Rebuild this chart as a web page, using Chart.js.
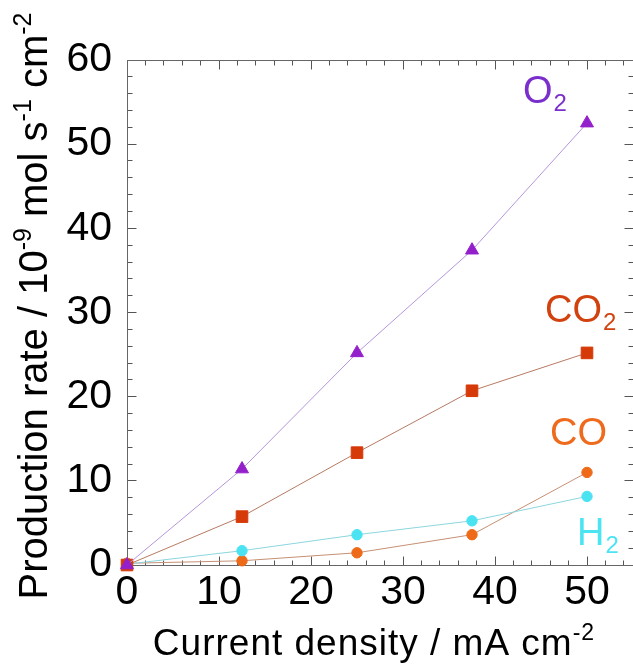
<!DOCTYPE html>
<html>
<head>
<meta charset="utf-8">
<script src="https://cdn.jsdelivr.net/npm/chart.js@4.4.1/dist/chart.umd.min.js"></script>
<style>
  html, body { margin: 0; padding: 0; background: #fff; overflow: hidden; }
</style>
</head>
<body>
<canvas id="chart" width="633" height="664"></canvas>
<script>
// values (x = current density, y = production rate)
const currentDensity = [0, 12.5, 25, 37.5, 50];
const o2 = [0, 11.4, 25.2, 37.4, 52.5];
const co2 = [0, 5.75, 13.35, 20.7, 25.2];
const co = [0.2, 0.5, 1.45, 3.6, 11.0];
const h2 = [0.1, 1.7, 3.6, 5.25, 8.15];
const xTickValues = [0, 10, 20, 30, 40, 50];
const yTickValues = [0, 10, 20, 30, 40, 50, 60];

const FONT = "'Liberation Sans', Arial, sans-serif";

function points(ys) {
    return currentDensity.map((x, i) => ({ x: x, y: ys[i] }));
}

// text with sub/superscript pieces
function richWidth(ctx, parts, size) {
    let w = 0;
    parts.forEach(p => {
        ctx.font = (p.sup || p.sub ? Math.round(size * 0.62) : size) + "px " + FONT;
        w += ctx.measureText(p.t).width;
    });
    return w;
}

function drawRich(ctx, parts, x, y, size) {
    parts.forEach(p => {
        const s = p.sup || p.sub ? Math.round(size * 0.62) : size;
        ctx.font = s + "px " + FONT;
        let dy = 0;
        if (p.sup) dy = -size * 0.4;
        if (p.sub) dy = size * 0.2;
        ctx.fillText(p.t, x, y + dy);
        x += ctx.measureText(p.t).width;
    });
}

const frameAndText = {
    id: "frameAndText",
    beforeDatasetsDraw(chart) {
        const { ctx, chartArea: a, scales } = chart;
        const xs = scales.x, ys = scales.y;
        const L = Math.floor(a.left) + 0.5, R = Math.floor(a.right) + 0.5;
        const T = Math.floor(a.top) + 0.5, B = Math.floor(a.bottom) + 0.5;
        ctx.save();
        ctx.lineWidth = 1;
        ctx.strokeStyle = "#555";
        ctx.beginPath();
        for (let v = 0; v <= 55; v += 2) {
            const px = Math.floor(xs.getPixelForValue(v)) + 0.5;
            const len = v % 10 === 0 ? 9 : 5;
            ctx.moveTo(px, B); ctx.lineTo(px, B - len);
            ctx.moveTo(px, T); ctx.lineTo(px, T + len);
        }
        for (let v = 0; v <= 60; v += 2) {
            const py = Math.floor(ys.getPixelForValue(v)) + 0.5;
            const len = v % 10 === 0 ? 9 : 5;
            ctx.moveTo(L, py); ctx.lineTo(L + len, py);
            ctx.moveTo(R, py); ctx.lineTo(R - len, py);
        }
        ctx.stroke();
        ctx.strokeStyle = "#666";
        ctx.strokeRect(L, T, R - L, B - T);
        ctx.restore();
    },
    afterDraw(chart) {
        const ctx = chart.ctx;
        ctx.save();
        ctx.fillStyle = "#000";
        ctx.textBaseline = "alphabetic";
        ctx.textAlign = "left";

        // x axis title
        const xParts = [{ t: "Current density / mA cm" }, { t: "-2", sup: true }];
        ctx.letterSpacing = "1px";
        const xw = richWidth(ctx, xParts, 37);
        drawRich(ctx, xParts, 374 - xw / 2, 655, 37);

        // y axis title
        const yParts = [
            { t: "Production rate / 10" }, { t: "-9", sup: true },
            { t: " mol s" }, { t: "-1", sup: true },
            { t: " cm" }, { t: "-2", sup: true }
        ];
        ctx.letterSpacing = "0px";
        const yw = richWidth(ctx, yParts, 40);
        ctx.translate(47, 306);
        ctx.rotate(-Math.PI / 2);
        drawRich(ctx, yParts, -yw / 2, 0, 40);
        ctx.restore();

        // species labels
        ctx.save();
        ctx.textBaseline = "alphabetic";
        const labels = [
            { main: "O", sub: "2", color: "#7a2fcc", x: 523, y: 103 },
            { main: "CO", sub: "2", color: "#d2420e", x: 545, y: 322 },
            { main: "CO", sub: "", color: "#ee6b1d", x: 550, y: 445 },
            { main: "H", sub: "2", color: "#4de4f2", x: 577, y: 545 }
        ];
        labels.forEach(l => {
            ctx.fillStyle = l.color;
            ctx.font = "38px " + FONT;
            ctx.fillText(l.main, l.x, l.y);
            const w = ctx.measureText(l.main).width;
            ctx.font = "24px " + FONT;
            ctx.fillText(l.sub, l.x + w + 1, l.y + 8);
        });
        ctx.restore();
    }
};

new Chart(document.getElementById("chart"), {
    type: "line",
    data: {
        datasets: [
            {
                label: "O2", data: points(o2),
                borderColor: "#b596dc", borderWidth: 1,
                pointStyle: "triangle", pointRadius: 7.5,
                pointBackgroundColor: "#9420cc", pointBorderColor: "#9420cc", pointBorderWidth: 1
            },
            {
                label: "CO2", data: points(co2),
                borderColor: "#b77a62", borderWidth: 1,
                pointStyle: "rect", pointRadius: 8.2,
                pointBackgroundColor: "#d63a08", pointBorderColor: "#d63a08", pointBorderWidth: 1
            },
            {
                label: "H2", data: points(h2),
                borderColor: "#8cd6de", borderWidth: 1,
                pointStyle: "circle", pointRadius: 5.2,
                pointBackgroundColor: "#4be3f2", pointBorderColor: "#4be3f2", pointBorderWidth: 1
            },
            {
                label: "CO", data: points(co),
                borderColor: "#c59074", borderWidth: 1,
                pointStyle: "circle", pointRadius: 5.2,
                pointBackgroundColor: "#ee6a18", pointBorderColor: "#ee6a18", pointBorderWidth: 1
            }
        ].map(d => Object.assign(d, { tension: 0, clip: false, fill: false }))
    },
    options: {
        responsive: false,
        animation: false,
        layout: { autoPadding: false, padding: { top: 60, right: 0, left: 0, bottom: 0 } },
        plugins: { legend: { display: false }, tooltip: { enabled: false } },
        scales: {
            x: {
                type: "linear", min: 0, max: 55,
                afterFit(scale) {
                    scale.height = 99;
                    scale.paddingLeft = 0;
                    scale.paddingRight = 0;
                },
                afterBuildTicks(scale) { scale.ticks = xTickValues.map(v => ({ value: v })); },
                grid: { display: false, drawTicks: false },
                border: { display: false },
                ticks: { color: "#000", padding: 3, font: { family: FONT, size: 41 } }
            },
            y: {
                type: "linear", min: 0, max: 60,
                afterFit(scale) {
                    scale.width = 127;
                    scale.paddingTop = 0;
                    scale.paddingBottom = 0;
                },
                afterBuildTicks(scale) { scale.ticks = yTickValues.map(v => ({ value: v })); },
                grid: { display: false, drawTicks: false },
                border: { display: false },
                ticks: { color: "#000", padding: 15, font: { family: FONT, size: 41 } }
            }
        }
    },
    plugins: [frameAndText]
});
</script>
</body>
</html>
